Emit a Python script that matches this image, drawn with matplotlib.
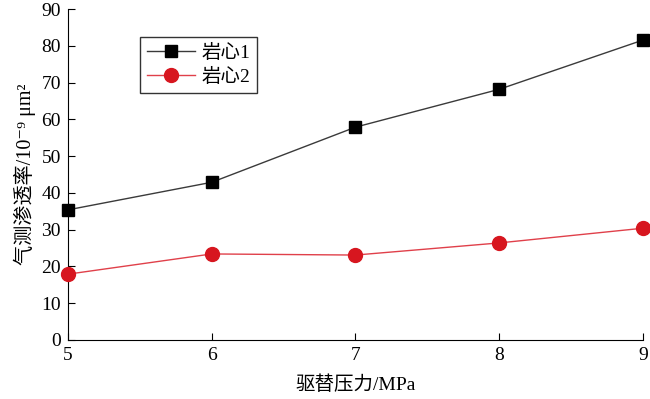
import matplotlib
matplotlib.use("Agg")
import matplotlib.pyplot as plt

plt.rcParams['font.family'] = ['Liberation Serif', 'Noto Sans CJK SC', 'DejaVu Sans']

pressure = [5, 6, 7, 8, 9]
core1 = [35.4, 42.9, 57.9, 68.2, 81.6]
core2 = [17.9, 23.4, 23.1, 26.4, 30.4]
labels = ['岩心1', '岩心2']

fig = plt.figure(figsize=(6.5, 3.99), dpi=100)
ax = fig.add_axes([0.1046, 0.148, 0.8846, 0.829])

ax.plot(pressure, core1, color='#3a3a3a', linewidth=1.0, marker='s', markersize=8,
        markerfacecolor='black', markeredgecolor='black', label=labels[0], clip_on=False, zorder=3)
ax.plot(pressure, core2, color='#e0404a', linewidth=1.0, marker='o', markersize=10,
        markerfacecolor='#d7161f', markeredgecolor='#d7161f', label=labels[1], clip_on=False, zorder=3)

ax.set_xlim(5, 9)
ax.set_ylim(0, 90)
ax.set_xticks(pressure)
ax.set_yticks(range(0, 91, 10))
ax.spines['top'].set_visible(False)
ax.spines['right'].set_visible(False)
ax.tick_params(direction='in', length=5, labelsize=14, pad=5)

ax.set_xlabel('驱替压力/MPa', fontsize=14, labelpad=8)
ax.set_ylabel('气测渗透率/10⁻⁹ μm²', fontsize=14.5, labelpad=4)

leg = ax.legend(loc='upper left', bbox_to_anchor=(0.125, 0.915), borderaxespad=0, fontsize=14,
                frameon=True, fancybox=False, edgecolor='black', handlelength=2.5, borderpad=0.35,
                labelspacing=0.3, handletextpad=0.3)
leg.get_frame().set_linewidth(1.0)

fig.savefig('out.png', dpi=100)
